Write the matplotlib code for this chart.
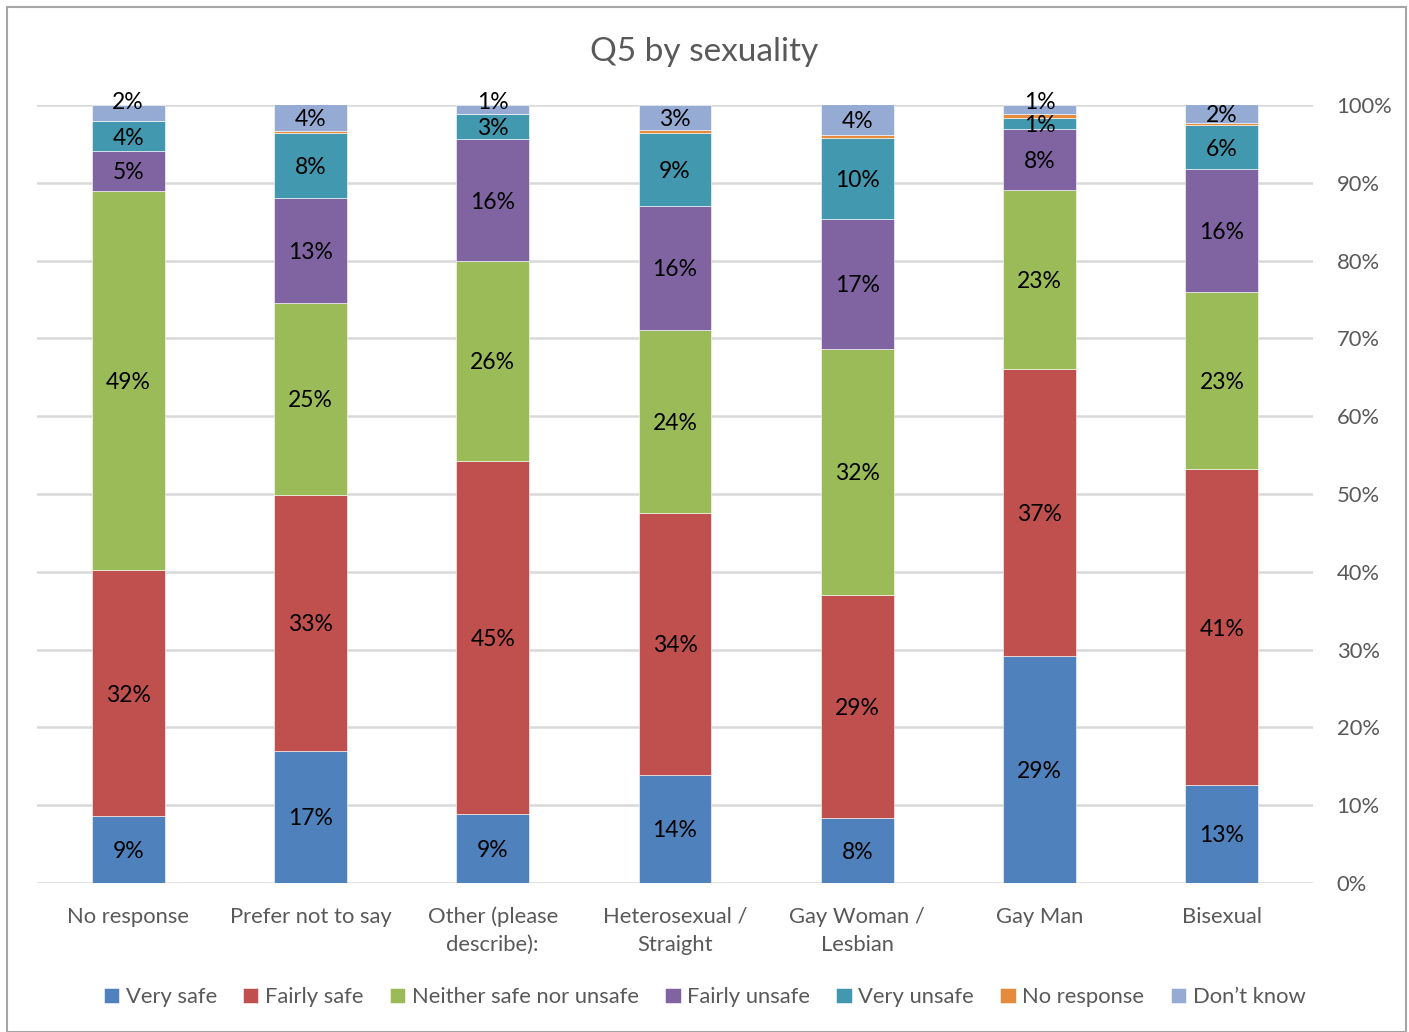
import numpy as np
import matplotlib.pyplot as plt
from matplotlib.patches import Rectangle

plt.rcParams['font.family'] = ['Lato', 'DejaVu Sans']

# categories along the x axis
categories = ['No response', 'Prefer not to say', 'Other (please\ndescribe):',
              'Heterosexual /\nStraight', 'Gay Woman /\nLesbian', 'Gay Man', 'Bisexual']

# percentage values per response, one list per series (bottom to top)
very_safe = [8.6, 17.0, 8.9, 13.9, 8.4, 29.2, 12.6]
fairly_safe = [31.6, 32.9, 45.4, 33.7, 28.6, 36.9, 40.6]
neither = [48.8, 24.7, 25.6, 23.5, 31.7, 23.0, 22.8]
fairly_unsafe = [5.1, 13.4, 15.7, 15.9, 16.7, 7.8, 15.8]
very_unsafe = [3.8, 8.4, 3.3, 9.4, 10.3, 1.4, 5.6]
no_response = [0.0, 0.2, 0.0, 0.4, 0.4, 0.6, 0.3]
dont_know = [2.1, 3.6, 1.1, 3.2, 4.0, 1.1, 2.4]

series = [
    ('Very safe', very_safe, '#4F81BD', True),
    ('Fairly safe', fairly_safe, '#C0504D', True),
    ('Neither safe nor unsafe', neither, '#9BBB59', True),
    ('Fairly unsafe', fairly_unsafe, '#8064A2', True),
    ('Very unsafe', very_unsafe, '#4198AF', True),
    ('No response', no_response, '#E68A3C', False),
    ('Don\u2019t know', dont_know, '#95ABD4', True),
]

fig = plt.figure(figsize=(14.09, 10.32), dpi=100)
ax = fig.add_axes([37 / 1409, 1 - 883 / 1032, (1313 - 37) / 1409, (883 - 105) / 1032])

x = np.arange(len(categories))
bottom = np.zeros(len(categories))
for name, vals, color, show in series:
    vals = np.array(vals)
    ax.bar(x, vals, width=0.4, bottom=bottom, color=color, label=name,
           edgecolor='white', linewidth=0.4, zorder=3)
    if show:
        for i, v in enumerate(vals):
            y = bottom[i] + v / 2
            # small top labels sit just above the bar, as in the original
            if name == 'Don\u2019t know' and v < 2.3:
                y = max(y, 100.6)
            ax.text(x[i], y, f'{v:.0f}%', ha='center', va='center_baseline',
                    fontsize=16.5, color='black', zorder=4)
    bottom += vals

ax.set_xlim(-0.5, len(categories) - 0.5)
ax.set_ylim(0, 100)
ax.set_yticks(np.arange(0, 101, 10))
ax.set_yticklabels([f'{t}%' for t in range(0, 101, 10)])
ax.yaxis.tick_right()
ax.grid(axis='y', color='#D9D9D9', linewidth=1.8, zorder=0)
ax.set_axisbelow(True)
for s in ['top', 'left', 'right', 'bottom']:
    ax.spines[s].set_visible(False)
ax.tick_params(axis='both', length=0, labelsize=15.8, colors='#595959')
ax.tick_params(axis='y', pad=17)
ax.tick_params(axis='x', pad=17)
ax.set_xticks(x)
ax.set_xticklabels(categories, linespacing=1.5)

fig.text(0.5, 1 - 52 / 1032, 'Q5 by sexuality', ha='center', va='center',
         fontsize=24, color='#595959')

handles, labels = ax.get_legend_handles_labels()
fig.legend(handles, labels, loc='center', bbox_to_anchor=(0.5, 1 - 997 / 1032),
           ncol=7, frameon=False, fontsize=15.8, handlelength=0.7, handleheight=0.7,
           handletextpad=0.3, columnspacing=1.2, labelcolor='#595959')

fig.patches.append(Rectangle((7 / 1409, 0), 1399 / 1409, 1 - 7 / 1032,
                             transform=fig.transFigure, fill=False,
                             edgecolor='#A6A6A6', linewidth=1.5))

fig.savefig('out.png', dpi=100)
